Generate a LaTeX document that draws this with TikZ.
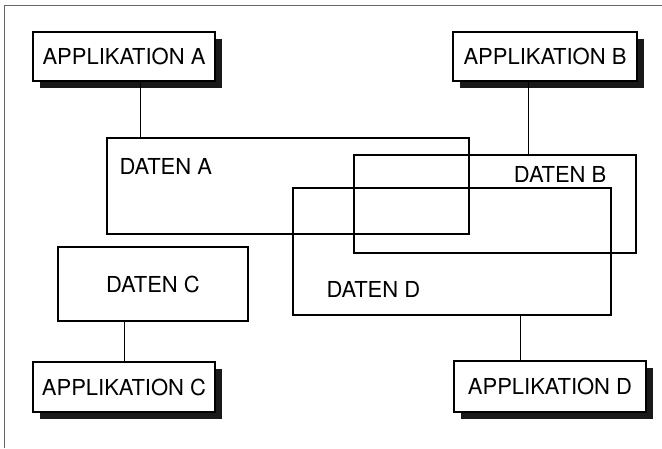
\documentclass[tikz,border=0pt]{standalone}
\usepackage{fontspec}
\setmainfont{TeX Gyre Heros}
\usetikzlibrary{positioning}
\usetikzlibrary{shadows}
\tikzset{basic/.style={draw,line width=1.1pt,inner sep=0pt,font=\fontsize{22}{26}\selectfont}}
\tikzset{app/.style={basic,rectangle,fill=white,minimum width=182pt,minimum height=49pt,drop shadow={shadow xshift=7pt,shadow yshift=-7pt,fill=black!90,opacity=1}}}
\tikzset{daten/.style={basic,rectangle}}
\tikzset{datlabel/.style={inner sep=0pt,font=\fontsize{22}{26}\selectfont}}
\tikzset{link/.style={draw,line width=1pt}}

\begin{document}
\begin{tikzpicture}[x=1pt,y=-1pt]
        \useasboundingbox (0,0) rectangle (662,448);
        \draw[black!60,line width=1pt] (4,448) -- (4,5) -- (662,5);

        \node[daten,minimum width=362pt,minimum height=96pt] (datA) at (288,186) {};
        \node[daten,minimum width=282pt,minimum height=98pt] (datB) at (495,204) {};
        \node[daten,minimum width=318pt,minimum height=127pt] (datD) at (452,251.5) {};
        \node[daten,minimum width=190pt,minimum height=74pt] (datC) at (153,284) {DATEN C};

        \node[datlabel,below right=21pt and 13pt of datA.north west] (labA) {DATEN A};
        \node[datlabel,below left=12pt and 30pt of datB.north east] (labB) {DATEN B};
        \node[datlabel,above right=18pt and 34pt of datD.south west] (labD) {DATEN D};

        \node[app] (appA) at (124,56.5) {APPLIKATION A};
        \node[app,minimum width=184pt] (appB) at (545,56.5) {APPLIKATION B};
        \node[app,minimum height=50pt] (appC) at (124,387) {APPLIKATION C};
        \node[app,minimum width=192pt,minimum height=51pt] (appD) at (550,386.5) {APPLIKATION D};

        \path[link] ([xshift=16pt]appA.south) -- ([xshift=16pt]appA.south |- datA.north);
        \path[link] ([xshift=-17pt]appB.south) -- ([xshift=-17pt]appB.south |- datB.north);
        \path[link] ([xshift=-29pt]datC.south) -- ([xshift=-29pt]datC.south |- appC.north);
        \path[link] ([xshift=68pt]datD.south) -- ([xshift=68pt]datD.south |- appD.north);

    \end{tikzpicture}
\end{document}
